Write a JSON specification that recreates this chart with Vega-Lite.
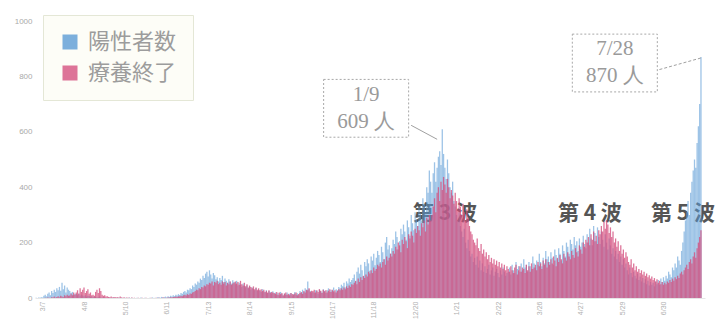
{
"$schema": "https://vega.github.io/schema/vega-lite/v6.json",
"width": 670, "height": 277,
"autosize": {"type": "none"},
"padding": {"left": 35, "top": 21, "right": 18, "bottom": 33},
"background": "white",
"config": {"view": {"stroke": null}, "axis": {"grid": false}},
"datasets": {
"peaks": [{"d":"2021-01-09","v":609,"t":"1/9\n609 人"},{"d":"2021-07-28","v":870,"t":"7/28\n870 人"}],
"waves": [{"d":"2021-01-12","t":"第 3 波"},{"d":"2021-05-04","t":"第 4 波"},{"d":"2021-07-15","t":"第 5 波"}],
"daily": [
{"d":"2020-03-01","p":1,"r":0},{"d":"2020-03-02","p":0,"r":0},{"d":"2020-03-03","p":2,"r":0},{"d":"2020-03-04","p":1,"r":0},{"d":"2020-03-05","p":3,"r":0},{"d":"2020-03-06","p":2,"r":0},{"d":"2020-03-07","p":8,"r":0},{"d":"2020-03-08","p":12,"r":1},{"d":"2020-03-09","p":6,"r":0},{"d":"2020-03-10","p":15,"r":2},{"d":"2020-03-11","p":20,"r":1},{"d":"2020-03-12","p":10,"r":0},{"d":"2020-03-13","p":25,"r":3},{"d":"2020-03-14","p":18,"r":2},{"d":"2020-03-15","p":30,"r":5},{"d":"2020-03-16","p":22,"r":1},{"d":"2020-03-17","p":35,"r":4},{"d":"2020-03-18","p":28,"r":6},{"d":"2020-03-19","p":40,"r":2},{"d":"2020-03-20","p":26,"r":8},{"d":"2020-03-21","p":55,"r":5},{"d":"2020-03-22","p":32,"r":3},{"d":"2020-03-23","p":45,"r":10},{"d":"2020-03-24","p":20,"r":6},{"d":"2020-03-25","p":38,"r":12},{"d":"2020-03-26","p":30,"r":8},{"d":"2020-03-27","p":25,"r":9},{"d":"2020-03-28","p":18,"r":15},{"d":"2020-03-29","p":22,"r":10},{"d":"2020-03-30","p":12,"r":20},{"d":"2020-03-31","p":15,"r":12},
{"d":"2020-04-01","p":14,"r":20},{"d":"2020-04-02","p":10,"r":28},{"d":"2020-04-03","p":16,"r":15},{"d":"2020-04-04","p":8,"r":35},{"d":"2020-04-05","p":12,"r":22},{"d":"2020-04-06","p":9,"r":30},{"d":"2020-04-07","p":6,"r":38},{"d":"2020-04-08","p":10,"r":18},{"d":"2020-04-09","p":5,"r":25},{"d":"2020-04-10","p":8,"r":32},{"d":"2020-04-11","p":7,"r":15},{"d":"2020-04-12","p":4,"r":20},{"d":"2020-04-13","p":6,"r":10},{"d":"2020-04-14","p":3,"r":12},{"d":"2020-04-15","p":5,"r":8},{"d":"2020-04-16","p":4,"r":22},{"d":"2020-04-17","p":2,"r":30},{"d":"2020-04-18","p":3,"r":18},{"d":"2020-04-19","p":5,"r":35},{"d":"2020-04-20","p":2,"r":25},{"d":"2020-04-21","p":1,"r":12},{"d":"2020-04-22","p":3,"r":8},{"d":"2020-04-23","p":2,"r":10},{"d":"2020-04-24","p":1,"r":5},{"d":"2020-04-25","p":0,"r":6},{"d":"2020-04-26","p":2,"r":4},{"d":"2020-04-27","p":1,"r":3},{"d":"2020-04-28","p":0,"r":5},{"d":"2020-04-29","p":1,"r":2},{"d":"2020-04-30","p":2,"r":3},
{"d":"2020-05-01","p":0,"r":4},{"d":"2020-05-02","p":1,"r":2},{"d":"2020-05-03","p":0,"r":3},{"d":"2020-05-04","p":2,"r":1},{"d":"2020-05-05","p":0,"r":5},{"d":"2020-05-06","p":1,"r":2},{"d":"2020-05-07","p":0,"r":1},{"d":"2020-05-08","p":0,"r":3},{"d":"2020-05-09","p":1,"r":0},{"d":"2020-05-10","p":0,"r":2},{"d":"2020-05-11","p":0,"r":1},{"d":"2020-05-12","p":2,"r":1},{"d":"2020-05-13","p":0,"r":0},{"d":"2020-05-14","p":1,"r":2},{"d":"2020-05-15","p":0,"r":0},{"d":"2020-05-16","p":0,"r":1},{"d":"2020-05-17","p":0,"r":0},{"d":"2020-05-18","p":1,"r":0},{"d":"2020-05-19","p":0,"r":1},{"d":"2020-05-20","p":0,"r":0},{"d":"2020-05-21","p":2,"r":0},{"d":"2020-05-22","p":0,"r":1},{"d":"2020-05-23","p":0,"r":0},{"d":"2020-05-24","p":1,"r":0},{"d":"2020-05-25","p":0,"r":1},{"d":"2020-05-26","p":0,"r":0},{"d":"2020-05-27","p":0,"r":0},{"d":"2020-05-28","p":1,"r":0},{"d":"2020-05-29","p":0,"r":1},{"d":"2020-05-30","p":2,"r":0},{"d":"2020-05-31","p":0,"r":0},
{"d":"2020-06-01","p":1,"r":0},{"d":"2020-06-02","p":0,"r":1},{"d":"2020-06-03","p":3,"r":0},{"d":"2020-06-04","p":2,"r":1},{"d":"2020-06-05","p":1,"r":0},{"d":"2020-06-06","p":4,"r":0},{"d":"2020-06-07","p":2,"r":2},{"d":"2020-06-08","p":3,"r":1},{"d":"2020-06-09","p":5,"r":0},{"d":"2020-06-10","p":2,"r":1},{"d":"2020-06-11","p":6,"r":2},{"d":"2020-06-12","p":4,"r":1},{"d":"2020-06-13","p":8,"r":3},{"d":"2020-06-14","p":5,"r":2},{"d":"2020-06-15","p":10,"r":4},{"d":"2020-06-16","p":7,"r":3},{"d":"2020-06-17","p":12,"r":5},{"d":"2020-06-18","p":9,"r":4},{"d":"2020-06-19","p":14,"r":6},{"d":"2020-06-20","p":11,"r":5},{"d":"2020-06-21","p":18,"r":8},{"d":"2020-06-22","p":15,"r":6},{"d":"2020-06-23","p":22,"r":10},{"d":"2020-06-24","p":25,"r":12},{"d":"2020-06-25","p":20,"r":9},{"d":"2020-06-26","p":30,"r":14},{"d":"2020-06-27","p":28,"r":11},{"d":"2020-06-28","p":35,"r":16},{"d":"2020-06-29","p":32,"r":15},{"d":"2020-06-30","p":45,"r":20},
{"d":"2020-07-01","p":40,"r":22},{"d":"2020-07-02","p":52,"r":25},{"d":"2020-07-03","p":48,"r":30},{"d":"2020-07-04","p":60,"r":28},{"d":"2020-07-05","p":55,"r":35},{"d":"2020-07-06","p":70,"r":32},{"d":"2020-07-07","p":65,"r":40},{"d":"2020-07-08","p":80,"r":38},{"d":"2020-07-09","p":72,"r":45},{"d":"2020-07-10","p":88,"r":42},{"d":"2020-07-11","p":95,"r":50},{"d":"2020-07-12","p":78,"r":48},{"d":"2020-07-13","p":100,"r":55},{"d":"2020-07-14","p":85,"r":52},{"d":"2020-07-15","p":70,"r":60},{"d":"2020-07-16","p":90,"r":45},{"d":"2020-07-17","p":82,"r":58},{"d":"2020-07-18","p":68,"r":55},{"d":"2020-07-19","p":75,"r":62},{"d":"2020-07-20","p":60,"r":50},{"d":"2020-07-21","p":72,"r":55},{"d":"2020-07-22","p":65,"r":48},{"d":"2020-07-23","p":80,"r":60},{"d":"2020-07-24","p":58,"r":52},{"d":"2020-07-25","p":70,"r":58},{"d":"2020-07-26","p":62,"r":45},{"d":"2020-07-27","p":55,"r":55},{"d":"2020-07-28","p":68,"r":50},{"d":"2020-07-29","p":60,"r":60},{"d":"2020-07-30","p":52,"r":48},{"d":"2020-07-31","p":64,"r":52},
{"d":"2020-08-01","p":58,"r":55},{"d":"2020-08-02","p":50,"r":60},{"d":"2020-08-03","p":62,"r":52},{"d":"2020-08-04","p":45,"r":58},{"d":"2020-08-05","p":55,"r":48},{"d":"2020-08-06","p":48,"r":62},{"d":"2020-08-07","p":40,"r":50},{"d":"2020-08-08","p":52,"r":45},{"d":"2020-08-09","p":44,"r":55},{"d":"2020-08-10","p":38,"r":42},{"d":"2020-08-11","p":46,"r":50},{"d":"2020-08-12","p":35,"r":38},{"d":"2020-08-13","p":42,"r":45},{"d":"2020-08-14","p":30,"r":40},{"d":"2020-08-15","p":38,"r":35},{"d":"2020-08-16","p":33,"r":42},{"d":"2020-08-17","p":28,"r":32},{"d":"2020-08-18","p":36,"r":38},{"d":"2020-08-19","p":25,"r":30},{"d":"2020-08-20","p":30,"r":35},{"d":"2020-08-21","p":27,"r":28},{"d":"2020-08-22","p":22,"r":32},{"d":"2020-08-23","p":32,"r":25},{"d":"2020-08-24","p":24,"r":30},{"d":"2020-08-25","p":20,"r":22},{"d":"2020-08-26","p":28,"r":26},{"d":"2020-08-27","p":18,"r":20},{"d":"2020-08-28","p":25,"r":28},{"d":"2020-08-29","p":22,"r":18},{"d":"2020-08-30","p":16,"r":22},{"d":"2020-08-31","p":24,"r":20},
{"d":"2020-09-01","p":15,"r":18},{"d":"2020-09-02","p":20,"r":15},{"d":"2020-09-03","p":12,"r":22},{"d":"2020-09-04","p":18,"r":12},{"d":"2020-09-05","p":10,"r":20},{"d":"2020-09-06","p":22,"r":14},{"d":"2020-09-07","p":14,"r":18},{"d":"2020-09-08","p":8,"r":10},{"d":"2020-09-09","p":16,"r":16},{"d":"2020-09-10","p":12,"r":20},{"d":"2020-09-11","p":20,"r":12},{"d":"2020-09-12","p":10,"r":15},{"d":"2020-09-13","p":15,"r":10},{"d":"2020-09-14","p":18,"r":18},{"d":"2020-09-15","p":9,"r":14},{"d":"2020-09-16","p":14,"r":12},{"d":"2020-09-17","p":22,"r":16},{"d":"2020-09-18","p":12,"r":20},{"d":"2020-09-19","p":17,"r":10},{"d":"2020-09-20","p":10,"r":14},{"d":"2020-09-21","p":25,"r":18},{"d":"2020-09-22","p":18,"r":22},{"d":"2020-09-23","p":30,"r":15},{"d":"2020-09-24","p":22,"r":25},{"d":"2020-09-25","p":35,"r":20},{"d":"2020-09-26","p":28,"r":30},{"d":"2020-09-27","p":60,"r":28},{"d":"2020-09-28","p":32,"r":35},{"d":"2020-09-29","p":25,"r":22},{"d":"2020-09-30","p":20,"r":26},
{"d":"2020-10-01","p":22,"r":25},{"d":"2020-10-02","p":18,"r":30},{"d":"2020-10-03","p":28,"r":20},{"d":"2020-10-04","p":25,"r":28},{"d":"2020-10-05","p":15,"r":22},{"d":"2020-10-06","p":30,"r":32},{"d":"2020-10-07","p":24,"r":26},{"d":"2020-10-08","p":20,"r":18},{"d":"2020-10-09","p":32,"r":30},{"d":"2020-10-10","p":26,"r":24},{"d":"2020-10-11","p":18,"r":28},{"d":"2020-10-12","p":28,"r":20},{"d":"2020-10-13","p":35,"r":26},{"d":"2020-10-14","p":22,"r":32},{"d":"2020-10-15","p":30,"r":22},{"d":"2020-10-16","p":25,"r":30},{"d":"2020-10-17","p":38,"r":24},{"d":"2020-10-18","p":20,"r":28},{"d":"2020-10-19","p":32,"r":20},{"d":"2020-10-20","p":28,"r":26},{"d":"2020-10-21","p":40,"r":32},{"d":"2020-10-22","p":35,"r":28},{"d":"2020-10-23","p":48,"r":35},{"d":"2020-10-24","p":42,"r":30},{"d":"2020-10-25","p":55,"r":38},{"d":"2020-10-26","p":38,"r":32},{"d":"2020-10-27","p":60,"r":42},{"d":"2020-10-28","p":52,"r":36},{"d":"2020-10-29","p":70,"r":45},{"d":"2020-10-30","p":58,"r":40},{"d":"2020-10-31","p":65,"r":50},
{"d":"2020-11-01","p":72,"r":48},{"d":"2020-11-02","p":85,"r":55},{"d":"2020-11-03","p":60,"r":62},{"d":"2020-11-04","p":95,"r":50},{"d":"2020-11-05","p":110,"r":70},{"d":"2020-11-06","p":88,"r":58},{"d":"2020-11-07","p":120,"r":75},{"d":"2020-11-08","p":100,"r":65},{"d":"2020-11-09","p":78,"r":80},{"d":"2020-11-10","p":130,"r":72},{"d":"2020-11-11","p":115,"r":85},{"d":"2020-11-12","p":140,"r":78},{"d":"2020-11-13","p":125,"r":95},{"d":"2020-11-14","p":98,"r":88},{"d":"2020-11-15","p":150,"r":100},{"d":"2020-11-16","p":135,"r":90},{"d":"2020-11-17","p":160,"r":110},{"d":"2020-11-18","p":118,"r":98},{"d":"2020-11-19","p":145,"r":105},{"d":"2020-11-20","p":170,"r":120},{"d":"2020-11-21","p":155,"r":115},{"d":"2020-11-22","p":130,"r":125},{"d":"2020-11-23","p":185,"r":110},{"d":"2020-11-24","p":165,"r":130},{"d":"2020-11-25","p":140,"r":140},{"d":"2020-11-26","p":200,"r":120},{"d":"2020-11-27","p":220,"r":150},{"d":"2020-11-28","p":175,"r":135},{"d":"2020-11-29","p":190,"r":145},{"d":"2020-11-30","p":160,"r":160},
{"d":"2020-12-01","p":180,"r":150},{"d":"2020-12-02","p":210,"r":170},{"d":"2020-12-03","p":195,"r":160},{"d":"2020-12-04","p":240,"r":185},{"d":"2020-12-05","p":220,"r":175},{"d":"2020-12-06","p":175,"r":200},{"d":"2020-12-07","p":205,"r":190},{"d":"2020-12-08","p":250,"r":165},{"d":"2020-12-09","p":230,"r":210},{"d":"2020-12-10","p":265,"r":195},{"d":"2020-12-11","p":240,"r":220},{"d":"2020-12-12","p":210,"r":205},{"d":"2020-12-13","p":280,"r":180},{"d":"2020-12-14","p":255,"r":230},{"d":"2020-12-15","p":225,"r":215},{"d":"2020-12-16","p":300,"r":240},{"d":"2020-12-17","p":270,"r":225},{"d":"2020-12-18","p":245,"r":200},{"d":"2020-12-19","p":310,"r":250},{"d":"2020-12-20","p":285,"r":235},{"d":"2020-12-21","p":260,"r":260},{"d":"2020-12-22","p":330,"r":245},{"d":"2020-12-23","p":305,"r":225},{"d":"2020-12-24","p":280,"r":270},{"d":"2020-12-25","p":360,"r":255},{"d":"2020-12-26","p":340,"r":280},{"d":"2020-12-27","p":310,"r":240},{"d":"2020-12-28","p":400,"r":290},{"d":"2020-12-29","p":380,"r":265},{"d":"2020-12-30","p":460,"r":300},{"d":"2020-12-31","p":420,"r":280},
{"d":"2021-01-01","p":380,"r":300},{"d":"2021-01-02","p":450,"r":330},{"d":"2021-01-03","p":490,"r":360},{"d":"2021-01-04","p":420,"r":310},{"d":"2021-01-05","p":470,"r":380},{"d":"2021-01-06","p":510,"r":400},{"d":"2021-01-07","p":530,"r":350},{"d":"2021-01-08","p":480,"r":420},{"d":"2021-01-09","p":609,"r":390},{"d":"2021-01-10","p":520,"r":437},{"d":"2021-01-11","p":470,"r":410},{"d":"2021-01-12","p":430,"r":380},{"d":"2021-01-13","p":500,"r":430},{"d":"2021-01-14","p":450,"r":400},{"d":"2021-01-15","p":400,"r":360},{"d":"2021-01-16","p":380,"r":390},{"d":"2021-01-17","p":420,"r":370},{"d":"2021-01-18","p":350,"r":340},{"d":"2021-01-19","p":330,"r":380},{"d":"2021-01-20","p":300,"r":350},{"d":"2021-01-21","p":280,"r":320},{"d":"2021-01-22","p":310,"r":360},{"d":"2021-01-23","p":260,"r":330},{"d":"2021-01-24","p":240,"r":300},{"d":"2021-01-25","p":220,"r":340},{"d":"2021-01-26","p":250,"r":310},{"d":"2021-01-27","p":200,"r":280},{"d":"2021-01-28","p":180,"r":320},{"d":"2021-01-29","p":210,"r":290},{"d":"2021-01-30","p":170,"r":260},{"d":"2021-01-31","p":150,"r":240},
{"d":"2021-02-01","p":160,"r":230},{"d":"2021-02-02","p":130,"r":210},{"d":"2021-02-03","p":145,"r":200},{"d":"2021-02-04","p":120,"r":190},{"d":"2021-02-05","p":150,"r":215},{"d":"2021-02-06","p":110,"r":180},{"d":"2021-02-07","p":135,"r":170},{"d":"2021-02-08","p":100,"r":195},{"d":"2021-02-09","p":125,"r":160},{"d":"2021-02-10","p":95,"r":175},{"d":"2021-02-11","p":115,"r":150},{"d":"2021-02-12","p":90,"r":165},{"d":"2021-02-13","p":105,"r":140},{"d":"2021-02-14","p":120,"r":155},{"d":"2021-02-15","p":85,"r":130},{"d":"2021-02-16","p":100,"r":145},{"d":"2021-02-17","p":110,"r":125},{"d":"2021-02-18","p":80,"r":140},{"d":"2021-02-19","p":95,"r":120},{"d":"2021-02-20","p":105,"r":135},{"d":"2021-02-21","p":90,"r":115},{"d":"2021-02-22","p":75,"r":130},{"d":"2021-02-23","p":100,"r":110},{"d":"2021-02-24","p":85,"r":125},{"d":"2021-02-25","p":110,"r":105},{"d":"2021-02-26","p":95,"r":120},{"d":"2021-02-27","p":80,"r":100},{"d":"2021-02-28","p":90,"r":115},
{"d":"2021-03-01","p":95,"r":105},{"d":"2021-03-02","p":110,"r":95},{"d":"2021-03-03","p":85,"r":115},{"d":"2021-03-04","p":120,"r":100},{"d":"2021-03-05","p":100,"r":90},{"d":"2021-03-06","p":90,"r":110},{"d":"2021-03-07","p":130,"r":120},{"d":"2021-03-08","p":105,"r":85},{"d":"2021-03-09","p":115,"r":100},{"d":"2021-03-10","p":95,"r":115},{"d":"2021-03-11","p":125,"r":95},{"d":"2021-03-12","p":100,"r":110},{"d":"2021-03-13","p":140,"r":105},{"d":"2021-03-14","p":110,"r":90},{"d":"2021-03-15","p":120,"r":120},{"d":"2021-03-16","p":95,"r":100},{"d":"2021-03-17","p":130,"r":115},{"d":"2021-03-18","p":115,"r":95},{"d":"2021-03-19","p":105,"r":125},{"d":"2021-03-20","p":150,"r":105},{"d":"2021-03-21","p":125,"r":110},{"d":"2021-03-22","p":110,"r":120},{"d":"2021-03-23","p":135,"r":100},{"d":"2021-03-24","p":120,"r":130},{"d":"2021-03-25","p":160,"r":115},{"d":"2021-03-26","p":130,"r":125},{"d":"2021-03-27","p":115,"r":105},{"d":"2021-03-28","p":145,"r":135},{"d":"2021-03-29","p":125,"r":120},{"d":"2021-03-30","p":170,"r":140},{"d":"2021-03-31","p":140,"r":110},
{"d":"2021-04-01","p":150,"r":130},{"d":"2021-04-02","p":130,"r":120},{"d":"2021-04-03","p":165,"r":140},{"d":"2021-04-04","p":145,"r":125},{"d":"2021-04-05","p":120,"r":150},{"d":"2021-04-06","p":175,"r":135},{"d":"2021-04-07","p":155,"r":115},{"d":"2021-04-08","p":140,"r":145},{"d":"2021-04-09","p":180,"r":130},{"d":"2021-04-10","p":160,"r":155},{"d":"2021-04-11","p":135,"r":140},{"d":"2021-04-12","p":190,"r":125},{"d":"2021-04-13","p":170,"r":160},{"d":"2021-04-14","p":150,"r":145},{"d":"2021-04-15","p":200,"r":135},{"d":"2021-04-16","p":185,"r":165},{"d":"2021-04-17","p":160,"r":150},{"d":"2021-04-18","p":210,"r":140},{"d":"2021-04-19","p":195,"r":170},{"d":"2021-04-20","p":175,"r":155},{"d":"2021-04-21","p":220,"r":145},{"d":"2021-04-22","p":190,"r":180},{"d":"2021-04-23","p":205,"r":165},{"d":"2021-04-24","p":170,"r":150},{"d":"2021-04-25","p":215,"r":190},{"d":"2021-04-26","p":185,"r":175},{"d":"2021-04-27","p":200,"r":160},{"d":"2021-04-28","p":225,"r":200},{"d":"2021-04-29","p":195,"r":185},{"d":"2021-04-30","p":180,"r":210},
{"d":"2021-05-01","p":230,"r":200},{"d":"2021-05-02","p":200,"r":220},{"d":"2021-05-03","p":250,"r":190},{"d":"2021-05-04","p":215,"r":230},{"d":"2021-05-05","p":190,"r":210},{"d":"2021-05-06","p":260,"r":240},{"d":"2021-05-07","p":235,"r":205},{"d":"2021-05-08","p":205,"r":225},{"d":"2021-05-09","p":255,"r":195},{"d":"2021-05-10","p":220,"r":245},{"d":"2021-05-11","p":195,"r":230},{"d":"2021-05-12","p":240,"r":260},{"d":"2021-05-13","p":210,"r":240},{"d":"2021-05-14","p":185,"r":275},{"d":"2021-05-15","p":230,"r":250},{"d":"2021-05-16","p":200,"r":281},{"d":"2021-05-17","p":175,"r":265},{"d":"2021-05-18","p":215,"r":235},{"d":"2021-05-19","p":190,"r":255},{"d":"2021-05-20","p":160,"r":220},{"d":"2021-05-21","p":180,"r":240},{"d":"2021-05-22","p":150,"r":200},{"d":"2021-05-23","p":170,"r":215},{"d":"2021-05-24","p":140,"r":185},{"d":"2021-05-25","p":160,"r":205},{"d":"2021-05-26","p":130,"r":170},{"d":"2021-05-27","p":150,"r":190},{"d":"2021-05-28","p":120,"r":160},{"d":"2021-05-29","p":140,"r":175},{"d":"2021-05-30","p":110,"r":145},{"d":"2021-05-31","p":125,"r":165},
{"d":"2021-06-01","p":100,"r":150},{"d":"2021-06-02","p":85,"r":130},{"d":"2021-06-03","p":110,"r":120},{"d":"2021-06-04","p":90,"r":140},{"d":"2021-06-05","p":75,"r":110},{"d":"2021-06-06","p":95,"r":125},{"d":"2021-06-07","p":80,"r":100},{"d":"2021-06-08","p":70,"r":115},{"d":"2021-06-09","p":88,"r":95},{"d":"2021-06-10","p":65,"r":105},{"d":"2021-06-11","p":78,"r":90},{"d":"2021-06-12","p":60,"r":100},{"d":"2021-06-13","p":72,"r":85},{"d":"2021-06-14","p":55,"r":95},{"d":"2021-06-15","p":68,"r":80},{"d":"2021-06-16","p":50,"r":88},{"d":"2021-06-17","p":62,"r":75},{"d":"2021-06-18","p":45,"r":82},{"d":"2021-06-19","p":58,"r":70},{"d":"2021-06-20","p":48,"r":78},{"d":"2021-06-21","p":55,"r":65},{"d":"2021-06-22","p":42,"r":72},{"d":"2021-06-23","p":60,"r":60},{"d":"2021-06-24","p":50,"r":68},{"d":"2021-06-25","p":65,"r":55},{"d":"2021-06-26","p":48,"r":62},{"d":"2021-06-27","p":70,"r":50},{"d":"2021-06-28","p":58,"r":58},{"d":"2021-06-29","p":75,"r":48},{"d":"2021-06-30","p":62,"r":55},
{"d":"2021-07-01","p":80,"r":50},{"d":"2021-07-02","p":70,"r":60},{"d":"2021-07-03","p":95,"r":55},{"d":"2021-07-04","p":85,"r":65},{"d":"2021-07-05","p":75,"r":58},{"d":"2021-07-06","p":110,"r":70},{"d":"2021-07-07","p":100,"r":62},{"d":"2021-07-08","p":125,"r":75},{"d":"2021-07-09","p":110,"r":68},{"d":"2021-07-10","p":150,"r":80},{"d":"2021-07-11","p":135,"r":72},{"d":"2021-07-12","p":120,"r":88},{"d":"2021-07-13","p":170,"r":95},{"d":"2021-07-14","p":200,"r":85},{"d":"2021-07-15","p":240,"r":100},{"d":"2021-07-16","p":280,"r":110},{"d":"2021-07-17","p":310,"r":120},{"d":"2021-07-18","p":350,"r":105},{"d":"2021-07-19","p":300,"r":130},{"d":"2021-07-20","p":380,"r":140},{"d":"2021-07-21","p":420,"r":125},{"d":"2021-07-22","p":460,"r":150},{"d":"2021-07-23","p":500,"r":165},{"d":"2021-07-24","p":470,"r":145},{"d":"2021-07-25","p":560,"r":180},{"d":"2021-07-26","p":620,"r":200},{"d":"2021-07-27","p":700,"r":220},{"d":"2021-07-28","p":870,"r":245}
]
},
"layer": [
{
"data": {"name": "waves"},
"mark": {"type": "text", "font": "Noto Sans CJK JP", "fontWeight": "bold", "fontSize": 21, "color": "#555555", "align": "center", "baseline": "middle"},
"encoding": {
"x": {"field": "d", "type": "temporal", "timeUnit": "utcyearmonthdate"},
"y": {"datum": 305, "type": "quantitative"},
"text": {"field": "t"}
}
},
{
"data": {"name": "daily"},
"mark": {"type": "bar", "opacity": 0.6, "binSpacing": 0},
"encoding": {
"x": {"field": "d", "type": "temporal", "timeUnit": "utcyearmonthdate", "title": null,
"scale": {"type": "utc", "domain": [{"year": 2020, "month": 3, "date": 1, "utc": true}, {"year": 2021, "month": 8, "date": 1, "utc": true}]},
"axis": {"format": "%-m/%-d", "labelAngle": -90, "labelFontSize": 7, "labelColor": "#b0b0b0", "ticks": false, "labelPadding": 3, "domainColor": "#e6e6e6", "labelFont": "Liberation Sans", "labelOverlap": false,
"values": [{"year":2020,"month":3,"date":7,"utc":true},{"year":2020,"month":3,"date":23,"utc":true},{"year":2020,"month":4,"date":8,"utc":true},{"year":2020,"month":4,"date":24,"utc":true},{"year":2020,"month":5,"date":10,"utc":true},{"year":2020,"month":5,"date":26,"utc":true},{"year":2020,"month":6,"date":11,"utc":true},{"year":2020,"month":6,"date":27,"utc":true},{"year":2020,"month":7,"date":13,"utc":true},{"year":2020,"month":7,"date":29,"utc":true},{"year":2020,"month":8,"date":14,"utc":true},{"year":2020,"month":8,"date":30,"utc":true},{"year":2020,"month":9,"date":15,"utc":true},{"year":2020,"month":10,"date":1,"utc":true},{"year":2020,"month":10,"date":17,"utc":true},{"year":2020,"month":11,"date":2,"utc":true},{"year":2020,"month":11,"date":18,"utc":true},{"year":2020,"month":12,"date":4,"utc":true},{"year":2020,"month":12,"date":20,"utc":true},{"year":2021,"month":1,"date":5,"utc":true},{"year":2021,"month":1,"date":21,"utc":true},{"year":2021,"month":2,"date":6,"utc":true},{"year":2021,"month":2,"date":22,"utc":true},{"year":2021,"month":3,"date":10,"utc":true},{"year":2021,"month":3,"date":26,"utc":true},{"year":2021,"month":4,"date":11,"utc":true},{"year":2021,"month":4,"date":27,"utc":true},{"year":2021,"month":5,"date":13,"utc":true},{"year":2021,"month":5,"date":29,"utc":true},{"year":2021,"month":6,"date":14,"utc":true},{"year":2021,"month":6,"date":30,"utc":true},{"year":2021,"month":7,"date":16,"utc":true}]}},
"y": {"field": "p", "type": "quantitative", "title": null,
"scale": {"domain": [0, 1000], "nice": false},
"axis": {"values": [0,100,200,300,400,500,600,700,800,900,1000], "format": "d", "labelFontSize": 8, "labelColor": "#aaaaaa", "ticks": false, "domain": false, "labelPadding": 3, "labelFont": "Liberation Sans"}},
"color": {"datum": "陽性者数",
"scale": {"domain": ["陽性者数", "療養終了"], "range": ["#5b9bd5", "#d4517f"]},
"legend": {"title": null, "orient": "none", "legendX": 8, "legendY": -6, "direction": "vertical", "symbolType": "square", "symbolSize": 225, "symbolOpacity": 0.85, "symbolStrokeWidth": 0, "labelFont": "Noto Sans CJK JP", "labelFontSize": 22, "labelColor": "#9c9c9c", "labelOffset": 7, "rowPadding": 9, "padding": 16, "fillColor": "#fdfdf7", "strokeColor": "#e4e7d6"}}
}
},
{
"data": {"name": "daily"},
"mark": {"type": "bar", "opacity": 0.8, "binSpacing": 0},
"encoding": {
"x": {"field": "d", "type": "temporal", "timeUnit": "utcyearmonthdate"},
"y": {"field": "r", "type": "quantitative"},
"color": {"datum": "療養終了"}
}
},
{
"data": {"name": "peaks"},
"transform": [{"filter": {"field": "v", "equal": 609}}],
"layer": [
{"mark": {"type": "rule", "color": "#a0a0a0", "strokeWidth": 1, "xOffset": -4, "yOffset": 10, "x2Offset": -30, "y2Offset": -4},
"encoding": {"x": {"field": "d", "type": "temporal", "timeUnit": "utcyearmonthdate"}, "y": {"field": "v", "type": "quantitative"}, "x2": {"field": "d", "timeUnit": "utcyearmonthdate"}, "y2": {"field": "v"}}},
{"mark": {"type": "point", "shape": "M-1,-0.68H1V0.68H-1Z", "size": 7225, "filled": true, "fill": "white", "fillOpacity": 1, "stroke": "#a8a8a8", "strokeWidth": 1, "strokeDash": [2, 2], "opacity": 1, "xOffset": -75, "yOffset": -21},
"encoding": {"x": {"field": "d", "type": "temporal", "timeUnit": "utcyearmonthdate"}, "y": {"field": "v", "type": "quantitative"}}},
{"mark": {"type": "text", "font": "Liberation Serif", "fontSize": 21, "color": "#9a9a9a", "lineBreak": "\n", "lineHeight": 27, "align": "center", "baseline": "middle", "dx": -75, "dy": -34},
"encoding": {"x": {"field": "d", "type": "temporal", "timeUnit": "utcyearmonthdate"}, "y": {"field": "v", "type": "quantitative"}, "text": {"field": "t"}}}
]
},
{
"data": {"name": "peaks"},
"transform": [{"filter": {"field": "v", "equal": 870}}],
"layer": [
{"mark": {"type": "rule", "color": "#a0a0a0", "strokeWidth": 1, "strokeDash": [3, 2], "xOffset": 1, "yOffset": 1, "x2Offset": -42, "y2Offset": 13},
"encoding": {"x": {"field": "d", "type": "temporal", "timeUnit": "utcyearmonthdate"}, "y": {"field": "v", "type": "quantitative"}, "x2": {"field": "d", "timeUnit": "utcyearmonthdate"}, "y2": {"field": "v"}}},
{"mark": {"type": "point", "shape": "M-1,-0.68H1V0.68H-1Z", "size": 7225, "filled": true, "fill": "white", "fillOpacity": 1, "stroke": "#a8a8a8", "strokeWidth": 1, "strokeDash": [2, 2], "opacity": 1, "xOffset": -85, "yOffset": 6},
"encoding": {"x": {"field": "d", "type": "temporal", "timeUnit": "utcyearmonthdate"}, "y": {"field": "v", "type": "quantitative"}}},
{"mark": {"type": "text", "font": "Liberation Serif", "fontSize": 21, "color": "#9a9a9a", "lineBreak": "\n", "lineHeight": 27, "align": "center", "baseline": "middle", "dx": -85, "dy": -8},
"encoding": {"x": {"field": "d", "type": "temporal", "timeUnit": "utcyearmonthdate"}, "y": {"field": "v", "type": "quantitative"}, "text": {"field": "t"}}}
]
}
]
}
